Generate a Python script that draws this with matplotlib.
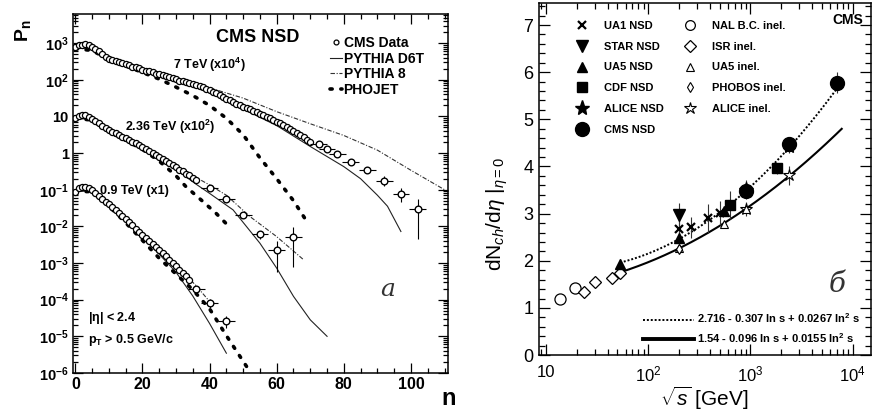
import numpy as np
import matplotlib
matplotlib.use("Agg")
import matplotlib.pyplot as plt
from matplotlib.lines import Line2D
from matplotlib.ticker import FixedLocator, LogLocator, NullFormatter, MultipleLocator

plt.rcParams['font.family'] = ['Liberation Sans', 'DejaVu Sans']
plt.rcParams['mathtext.fontset'] = 'custom'
plt.rcParams['mathtext.rm'] = 'Liberation Sans'
plt.rcParams['mathtext.bf'] = 'Liberation Sans:bold'
plt.rcParams['mathtext.it'] = 'Liberation Sans:italic'

# ---------------- multiplicity distributions (log10 of scaled P_n) ----------------
n7 = np.arange(0, 71)
pn7_log = [2.90, 2.94, 2.96, 2.97, 2.94, 2.90, 2.84, 2.78, 2.70, 2.63,
           2.56, 2.53, 2.50, 2.48, 2.45, 2.42, 2.39, 2.36, 2.34, 2.31,
           2.28, 2.25, 2.23, 2.20, 2.17, 2.15, 2.12, 2.09, 2.07, 2.04,
           2.01, 1.98, 1.96, 1.93, 1.90, 1.88, 1.85, 1.83, 1.80, 1.76,
           1.72, 1.67, 1.63, 1.58, 1.53, 1.48, 1.44, 1.39, 1.35, 1.30,
           1.26, 1.22, 1.19, 1.15, 1.12, 1.08, 1.04, 0.99, 0.95, 0.90,
           0.86, 0.81, 0.76, 0.71, 0.66, 0.61, 0.55, 0.49, 0.43, 0.37,
           0.31]
n7_bin = [72.5, 75, 78, 82, 87, 92, 97, 102]
pn7_bin_log = [0.24, 0.10, -0.02, -0.23, -0.46, -0.75, -1.11, -1.52]
pn7_bin_relerr = [0.05, 0.07, 0.10, 0.15, 0.20, 0.30, 0.40, 0.85]

n236 = np.arange(0, 37)
pn236_log = [0.95, 1.00, 1.03, 1.03, 0.99, 0.93, 0.87, 0.81, 0.75, 0.69,
             0.63, 0.58, 0.54, 0.49, 0.45, 0.40, 0.36, 0.31, 0.27, 0.22,
             0.17, 0.12, 0.06, 0.01, -0.05, -0.10, -0.16, -0.22, -0.28, -0.33,
             -0.39, -0.45, -0.50, -0.56, -0.61, -0.67, -0.73]
n236_bin = [40, 45, 50, 55, 60, 65]
pn236_bin_log = [-0.96, -1.26, -1.69, -2.21, -2.64, -2.29]
pn236_bin_relerr = [0.10, 0.12, 0.15, 0.25, 0.75, 0.85]

n09 = np.arange(0, 35)
pn09_log = [-1.05, -0.96, -0.93, -0.93, -0.96, -1.02, -1.10, -1.18, -1.26, -1.33,
            -1.40, -1.48, -1.55, -1.63, -1.72, -1.80, -1.89, -1.97, -2.06, -2.14,
            -2.23, -2.31, -2.39, -2.47, -2.56, -2.64, -2.73, -2.82, -2.91, -3.00,
            -3.09, -3.18, -3.27, -3.36, -3.45]
n09_bin = [36, 40, 45]
pn09_bin_log = [-3.70, -4.09, -4.58]
pn09_bin_relerr = [0.15, 0.25, 0.35]

# generator predictions (n, log10 P_n)
d6t7_n = [0, 5, 10, 20, 30, 40, 50, 60, 70, 80, 85, 90, 93, 97]
d6t7_log = [2.85, 2.88, 2.55, 2.25, 1.97, 1.65, 1.20, 0.75, 0.18, -0.37, -0.70, -1.15, -1.45, -2.14]
py8_7_n = [0, 5, 10, 20, 30, 40, 50, 60, 70, 80, 90, 100, 110]
py8_7_log = [2.85, 2.88, 2.60, 2.32, 2.04, 1.78, 1.50, 1.13, 0.80, 0.48, 0.08, -0.47, -1.00]
pho7_n = [0, 5, 10, 15, 20, 25, 30, 35, 40, 45, 50, 55, 60, 65, 69]
pho7_log = [2.85, 2.80, 2.55, 2.38, 2.20, 2.02, 1.80, 1.57, 1.30, 0.95, 0.50, -0.13, -0.70, -1.30, -1.87]

d6t236_n = [0, 5, 10, 20, 30, 36, 40, 47, 55, 60, 65, 70, 75]
d6t236_log = [0.95, 0.92, 0.62, 0.13, -0.45, -0.85, -1.10, -1.55, -2.46, -3.14, -3.91, -4.55, -5.00]
py8_236_n = [0, 5, 10, 20, 30, 40, 45, 52, 60, 68]
py8_236_log = [0.95, 0.94, 0.64, 0.17, -0.36, -0.87, -1.15, -1.73, -2.28, -2.91]
pho236_n = [0, 5, 10, 15, 20, 25, 30, 33, 38, 42, 45]
pho236_log = [0.95, 0.90, 0.58, 0.35, 0.10, -0.22, -0.62, -0.92, -1.32, -1.65, -1.93]

d6t09_n = [0, 5, 10, 15, 20, 25, 30, 35, 40, 45]
d6t09_log = [-1.05, -1.03, -1.42, -1.84, -2.30, -2.76, -3.25, -3.90, -4.65, -5.46]
py8_09_n = [0, 5, 10, 20, 30, 36, 40]
py8_09_log = [-1.05, -1.00, -1.38, -2.20, -3.05, -3.62, -4.05]
pho09_n = [0, 5, 10, 15, 20, 25, 30, 35, 40, 45, 51]
pho09_log = [-1.05, -1.05, -1.45, -1.90, -2.38, -2.87, -3.30, -3.73, -4.25, -4.98, -5.82]

# ---------------- central pseudorapidity density vs sqrt(s) ----------------
ua1_nsd_x = [200, 260, 380, 500]
ua1_nsd_y = [2.67, 2.71, 2.90, 3.01]
ua1_nsd_e = [0.20, 0.22, 0.30, 0.25]
star_nsd_x = [200]
star_nsd_y = [2.98]
star_nsd_e = [0.25]
ua5_nsd_x = [53, 200, 546, 900]
ua5_nsd_y = [1.93, 2.48, 3.05, 3.48]
ua5_nsd_e = [0.10, 0.15, 0.10, 0.10]
cdf_nsd_x = [630, 1800]
cdf_nsd_y = [3.18, 3.96]
cdf_nsd_e = [0.30, 0.12]
alice_nsd_x = [900, 2360]
alice_nsd_y = [3.51, 4.43]
alice_nsd_e = [0.20, 0.15]
cms_nsd_x = [900, 2360, 7000]
cms_nsd_y = [3.48, 4.47, 5.78]
cms_nsd_e = [0.15, 0.15, 0.23]
nal_x = [13.8, 19.4]
nal_y = [1.19, 1.42]
isr_x = [23.6, 30.4, 44.5, 53]
isr_y = [1.33, 1.55, 1.63, 1.74]
ua5_inel_x = [53, 200, 546, 900]
ua5_inel_y = [1.78, 2.28, 2.78, 3.09]
phobos_x = [200]
phobos_y = [2.25]
alice_inel_x = [900, 2360]
alice_inel_y = [3.10, 3.81]
alice_inel_e = [0.15, 0.20]

fit_nsd = (2.716, -0.307, 0.0267)
fit_inel = (1.54, -0.096, 0.0155)

fig = plt.figure(figsize=(8.76, 4.11), dpi=100)
fig.patch.set_facecolor('white')

# ======================= left panel =======================
ax = fig.add_axes([0.0833, 0.0925, 0.428, 0.873])
ax.set_yscale('log')
ax.set_xlim(-0.7, 111)
ax.set_ylim(1e-6, 10 ** 3.79)

def p(vals):
    return 10 ** np.asarray(vals, dtype=float)

model_styles = {
    'd6t': dict(color='#222222', lw=0.8, ls='-'),
    'py8': dict(color='#333333', lw=0.8, ls=(0, (4, 1.5, 1, 1.5))),
    'pho': dict(color='black', lw=2.6, ls=(0, (0.6, 2.4)), dash_capstyle='round'),
}
for nn, ll, key in [(d6t7_n, d6t7_log, 'd6t'), (py8_7_n, py8_7_log, 'py8'), (pho7_n, pho7_log, 'pho'),
                    (d6t236_n, d6t236_log, 'd6t'), (py8_236_n, py8_236_log, 'py8'), (pho236_n, pho236_log, 'pho'),
                    (d6t09_n, d6t09_log, 'd6t'), (py8_09_n, py8_09_log, 'py8'), (pho09_n, pho09_log, 'pho')]:
    ax.plot(nn, p(ll), **model_styles[key])

data_style = dict(ls='none', marker='o', ms=4.4, mfc='white', mec='black', mew=0.9)
for nn, ll in [(n7, pn7_log), (n236, pn236_log), (n09, pn09_log)]:
    ax.plot(nn, p(ll), **data_style)
for nn, ll, re in [(n7_bin, pn7_bin_log, pn7_bin_relerr),
                   (n236_bin, pn236_bin_log, pn236_bin_relerr),
                   (n09_bin, pn09_bin_log, pn09_bin_relerr)]:
    v = p(ll)
    ax.errorbar(nn, v, xerr=2.5, yerr=v * np.asarray(re), fmt='o', ms=4.8, mfc='white',
                mec='black', mew=1.0, ecolor='black', elinewidth=0.8, capsize=0)

yt = [1e-6, 1e-5, 1e-4, 1e-3, 1e-2, 1e-1, 1, 10, 1e2, 1e3]
ytl = [r'$\mathbf{10^{-6}}$', r'$\mathbf{10^{-5}}$', r'$\mathbf{10^{-4}}$', r'$\mathbf{10^{-3}}$',
       r'$\mathbf{10^{-2}}$', r'$\mathbf{10^{-1}}$', '1', '10', r'$\mathbf{10^{2}}$', r'$\mathbf{10^{3}}$']
ax.yaxis.set_major_locator(FixedLocator(yt))
ax.set_yticklabels(ytl, fontsize=10.5, fontweight='bold')
ax.yaxis.set_minor_locator(LogLocator(base=10, subs=np.arange(2, 10), numticks=20))
ax.yaxis.set_minor_formatter(NullFormatter())
ax.xaxis.set_minor_locator(MultipleLocator(5))
ax.set_xticks([0, 20, 40, 60, 80, 100])
ax.set_xticklabels(['0', '20', '40', '60', '80', '100'], fontsize=11.5, fontweight='bold')
ax.tick_params(which='both', direction='in', top=True, right=True, width=0.9)
ax.tick_params(which='major', length=7, pad=3)
ax.tick_params(which='minor', length=3.5)
for s in ax.spines.values():
    s.set_linewidth(1.1)

ax.text(0.493, 0.936, 'CMS NSD', transform=ax.transAxes, ha='center', va='center',
        fontsize=13, fontweight='bold')
ax.text(0.365, 0.858, r'7 TeV (x10$^\mathbf{4}$)', transform=ax.transAxes, ha='center', va='center',
        fontsize=9, fontweight='bold')
ax.text(0.259, 0.685, r'2.36 TeV (x10$^\mathbf{2}$)', transform=ax.transAxes, ha='center', va='center',
        fontsize=9, fontweight='bold')
ax.text(0.163, 0.507, '0.9 TeV (x1)', transform=ax.transAxes, ha='center', va='center',
        fontsize=9, fontweight='bold')
ax.text(0.04, 0.153, r'|$\mathbf{\eta}$| < 2.4', transform=ax.transAxes, ha='left', va='center',
        fontsize=9, fontweight='bold')
ax.text(0.04, 0.092, r'p$_\mathbf{T}$ > 0.5 GeV/c', transform=ax.transAxes, ha='left', va='center',
        fontsize=9, fontweight='bold')
ax.text(0.84, 0.234, 'a', transform=ax.transAxes, ha='center', va='center',
        fontsize=18, style='italic', family='DejaVu Serif', color='#333333')
fig.text(0.512, 0.03, 'n', ha='center', va='center', fontsize=17, fontweight='bold')
fig.text(0.026, 0.925, r'P$_\mathbf{n}$', rotation=90, ha='center', va='center',
         fontsize=14, fontweight='bold')

leg_handles = [
    Line2D([], [], ls='none', marker='o', ms=3.5, mfc='white', mec='black', mew=0.9),
    Line2D([], [], **model_styles['d6t']),
    Line2D([], [], **model_styles['py8']),
    Line2D([], [], **model_styles['pho']),
]
ax.legend(leg_handles, ['CMS Data', 'PYTHIA D6T', 'PYTHIA 8', 'PHOJET'],
          loc='upper left', bbox_to_anchor=(0.67, 0.955), frameon=False,
          prop={'weight': 'bold', 'size': 10}, handlelength=0.9, handletextpad=0.1,
          labelspacing=0.12, borderaxespad=0)

# ======================= right panel =======================
bx = fig.add_axes([0.615, 0.136, 0.379, 0.857])
bx.set_xscale('log')
bx.set_xlim(8.5, 15000)
bx.set_ylim(0, 7.47)

rs = np.geomspace(53, 7000, 200)
ls_ = np.log(rs ** 2)
bx.plot(rs, fit_nsd[0] + fit_nsd[1] * ls_ + fit_nsd[2] * ls_ ** 2, color='black', lw=1.4,
        ls=(0, (1, 1)))
rs2 = np.geomspace(53, 7800, 200)
ls2 = np.log(rs2 ** 2)
bx.plot(rs2, fit_inel[0] + fit_inel[1] * ls2 + fit_inel[2] * ls2 ** 2, color='black', lw=1.5)

eb = dict(ecolor='#333333', elinewidth=0.8, capsize=0, ls='none')
bx.errorbar(alice_inel_x, alice_inel_y, yerr=alice_inel_e, marker='*', ms=9, mfc='white',
            mec='black', mew=0.8, **eb)
bx.errorbar(ua5_inel_x, ua5_inel_y, marker='^', ms=6, mfc='white', mec='black', mew=0.8, **eb)
bx.errorbar(phobos_x, phobos_y, marker='d', ms=5, mfc='white', mec='black', mew=0.8, **eb)
bx.errorbar(nal_x, nal_y, marker='o', ms=8, mfc='white', mec='black', mew=0.9, **eb)
bx.errorbar(isr_x, isr_y, marker='D', ms=6, mfc='white', mec='black', mew=0.9, **eb)
bx.errorbar(ua1_nsd_x, ua1_nsd_y, yerr=ua1_nsd_e, marker='x', ms=6, mfc='black', mec='black', mew=1.6, **eb)
bx.errorbar(star_nsd_x, star_nsd_y, yerr=star_nsd_e, marker='v', ms=8, mfc='black', mec='black', **eb)
bx.errorbar(ua5_nsd_x, ua5_nsd_y, yerr=ua5_nsd_e, marker='^', ms=7, mfc='black', mec='black', **eb)
bx.errorbar(cdf_nsd_x, cdf_nsd_y, yerr=cdf_nsd_e, marker='s', ms=7, mfc='black', mec='black', **eb)
bx.errorbar(alice_nsd_x, alice_nsd_y, yerr=alice_nsd_e, marker='*', ms=11, mfc='black', mec='black', **eb)
bx.errorbar(cms_nsd_x, cms_nsd_y, yerr=cms_nsd_e, marker='o', ms=10, mfc='black', mec='black', **eb)

bx.set_xticks([10, 100, 1000, 10000])
bx.set_xticklabels(['10', r'$10^2$', r'$10^3$', r'$10^4$'], fontsize=12)
bx.xaxis.set_minor_locator(LogLocator(base=10, subs=np.arange(2, 10), numticks=20))
bx.xaxis.set_minor_formatter(NullFormatter())
bx.yaxis.set_minor_locator(MultipleLocator(0.2))
bx.set_yticks(range(0, 8))
bx.set_yticklabels([str(i) for i in range(0, 8)], fontsize=13)
bx.tick_params(which='both', direction='in', top=True, right=True, width=0.9)
bx.tick_params(which='major', length=8)
bx.tick_params(axis='x', which='major', pad=7)
bx.tick_params(axis='y', which='major', pad=4)
bx.tick_params(which='minor', length=4)
for s in bx.spines.values():
    s.set_linewidth(1.1)

bx.set_xlabel(r'$\sqrt{s}$ [GeV]', fontsize=15, labelpad=0)
bx.set_ylabel(r'dN$_{ch}$/d$\eta$ $|_{\eta=0}$', fontsize=15)
bx.yaxis.set_label_coords(-0.088, 0.40)
bx.text(0.931, 0.952, 'CMS', transform=bx.transAxes, ha='center', va='center',
        fontsize=10, fontweight='bold')
bx.text(0.9, 0.2, 'б', transform=bx.transAxes, ha='center', va='center',
        fontsize=20, style='italic', family='DejaVu Serif', color='#333333')

mk = lambda **kw: Line2D([], [], ls='none', mec='black', **kw)
handles = [
    mk(marker='x', ms=6, mew=1.6),
    mk(marker='v', ms=8, mfc='black'),
    mk(marker='^', ms=7, mfc='black'),
    mk(marker='s', ms=7, mfc='black'),
    mk(marker='*', ms=11, mfc='black'),
    mk(marker='o', ms=10, mfc='black'),
    mk(marker='o', ms=7, mfc='white', mew=0.9),
    mk(marker='D', ms=6, mfc='white', mew=0.9),
    mk(marker='^', ms=6, mfc='white', mew=0.8),
    mk(marker='d', ms=5, mfc='white', mew=0.8),
    mk(marker='*', ms=9, mfc='white', mew=0.8),
]
labels = ['UA1 NSD', 'STAR NSD', 'UA5 NSD', 'CDF NSD', 'ALICE NSD', 'CMS NSD',
          'NAL B.C. inel.', 'ISR inel.', 'UA5 inel.', 'PHOBOS inel.', 'ALICE inel.']
leg1 = bx.legend(handles, labels, ncol=2, loc='upper left', bbox_to_anchor=(0.09, 0.962),
                 frameon=False, prop={'weight': 'bold', 'size': 8}, handlelength=1.6,
                 handletextpad=1.2, labelspacing=0.98, columnspacing=1.5, borderaxespad=0)
bx.add_artist(leg1)
fit_handles = [Line2D([], [], color='black', lw=1.4, ls=(0, (1, 1))),
               Line2D([], [], color='black', lw=2.8)]
fit_labels = [r'2.716 - 0.307 ln s + 0.0267 ln$^\mathbf{2}$ s',
              r'1.54 - 0.096 ln s + 0.0155 ln$^\mathbf{2}$ s']
bx.legend(fit_handles, fit_labels, loc='lower left', bbox_to_anchor=(0.3, 0.015),
          frameon=False, prop={'weight': 'bold', 'size': 8}, handlelength=4.6,
          handletextpad=0.3, labelspacing=0.55, borderaxespad=0)

fig.savefig('out.png', dpi=100)
